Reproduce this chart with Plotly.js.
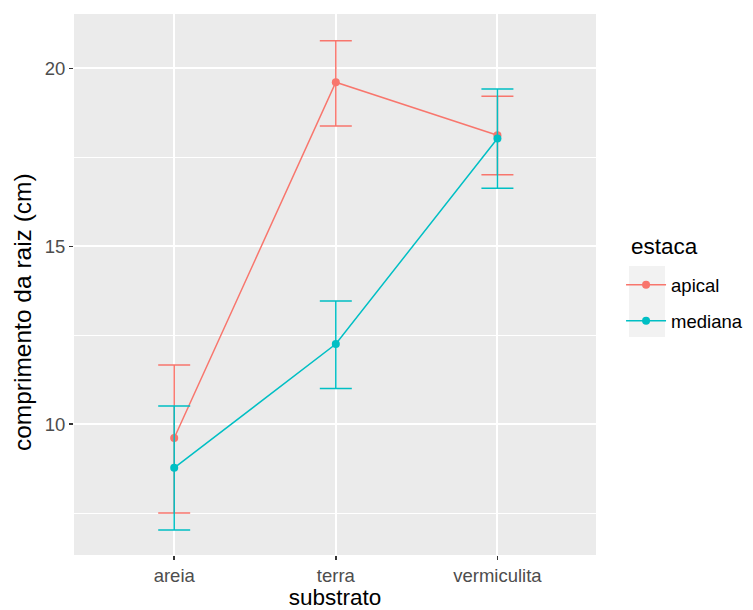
<!DOCTYPE html>
<html>
<head>
<meta charset="utf-8">
<script src="https://cdn.plot.ly/plotly-3.0.1.min.js"></script>
<style>html,body{margin:0;padding:0;background:#fff}#chart{width:753px;height:610px}</style>
</head>
<body>
<div id="chart"></div>
<script>
var substrato = ['areia', 'terra', 'vermiculita'];
var apicalMean  = [9.61, 19.61, 18.12];
var apicalUpper = [11.66, 20.78, 19.22];
var apicalLower = [7.50, 18.38, 17.01];
var medianaMean  = [8.77, 12.25, 18.03];
var medianaUpper = [10.51, 13.46, 19.42];
var medianaLower = [7.02, 11.00, 16.63];
var yTicks = [10, 15, 20];

function diff(a, b) { return a.map(function (v, i) { return +(v - b[i]).toFixed(3); }); }

var font = 'Liberation Sans, Arial, sans-serif';

function trace(name, mean, upper, lower, color) {
  return {
    type: 'scatter', mode: 'lines+markers', name: name,
    x: substrato, y: mean, legendgroup: name,
    line: {color: color, width: 1.5},
    marker: {color: color, size: 8},
    error_y: {type: 'data', symmetric: false,
      array: diff(upper, mean), arrayminus: diff(mean, lower),
      color: color, thickness: 1.5, width: 16}
  };
}

var data = [
  trace('apical', apicalMean, apicalUpper, apicalLower, '#F8766D'),
  trace('mediana', medianaMean, medianaUpper, medianaLower, '#00BFC4')
];

var layout = {
  width: 753, height: 610,
  margin: {l: 74, r: 157, t: 14, b: 55, autoexpand: false},
  paper_bgcolor: '#ffffff', plot_bgcolor: '#EBEBEB',
  font: {family: font, color: '#000'},
  xaxis: {
    type: 'category', range: [-0.62, 2.61],
    showgrid: true, gridcolor: '#ffffff', gridwidth: 2,
    zeroline: false, showline: false,
    ticks: 'outside', ticklen: 4, tickwidth: 1.5, tickcolor: '#333333',
    tickfont: {size: 18.5, color: '#4D4D4D', family: font},
    title: {text: 'substrato', font: {size: 22.5, color: '#000', family: font}, standoff: 4}
  },
  yaxis: {
    range: [6.32, 21.53], tickvals: yTicks, ticktext: yTicks.map(String),
    showgrid: true, gridcolor: '#ffffff', gridwidth: 2,
    minor: {tickvals: [7.5, 12.5, 17.5], showgrid: true, gridcolor: '#ffffff', gridwidth: 1, ticks: ''},
    zeroline: false, showline: false,
    ticks: 'outside', ticklen: 4, tickwidth: 1.5, tickcolor: '#333333',
    tickfont: {size: 18.5, color: '#4D4D4D', family: font}
  },
  annotations: [
    {text: 'comprimento da raiz (cm)', textangle: -90, showarrow: false,
     xref: 'paper', yref: 'paper', x: -0.1, xanchor: 'center', y: 0.449, yanchor: 'middle',
     xshift: 22 - 74 + 0.1 * 522,
     font: {size: 24.5, color: '#000', family: font}},
    {text: 'estaca', showarrow: false,
     xref: 'paper', yref: 'paper', x: (629 - 74) / 522, xanchor: 'left',
     y: (555 - 246) / 541, yanchor: 'middle',
     font: {size: 22.5, color: '#000', family: font}}
  ],
  showlegend: true,
  legend: {
    x: 1.048, xanchor: 'left', y: 0.534, yanchor: 'top',
    bgcolor: 'rgba(0,0,0,0)', borderwidth: 0, itemwidth: 40,
    traceorder: 'grouped', tracegroupgap: 9,
    font: {size: 18.5, color: '#000', family: font}
  },
  shapes: [{
    type: 'rect', xref: 'paper', yref: 'paper', layer: 'below',
    x0: 1.0632, x1: 1.1322, y0: 0.403, y1: 0.534,
    fillcolor: '#F2F2F2', line: {width: 0}
  }]
};

Plotly.newPlot('chart', data, layout, {displayModeBar: false, staticPlot: true});
</script>
</body>
</html>
